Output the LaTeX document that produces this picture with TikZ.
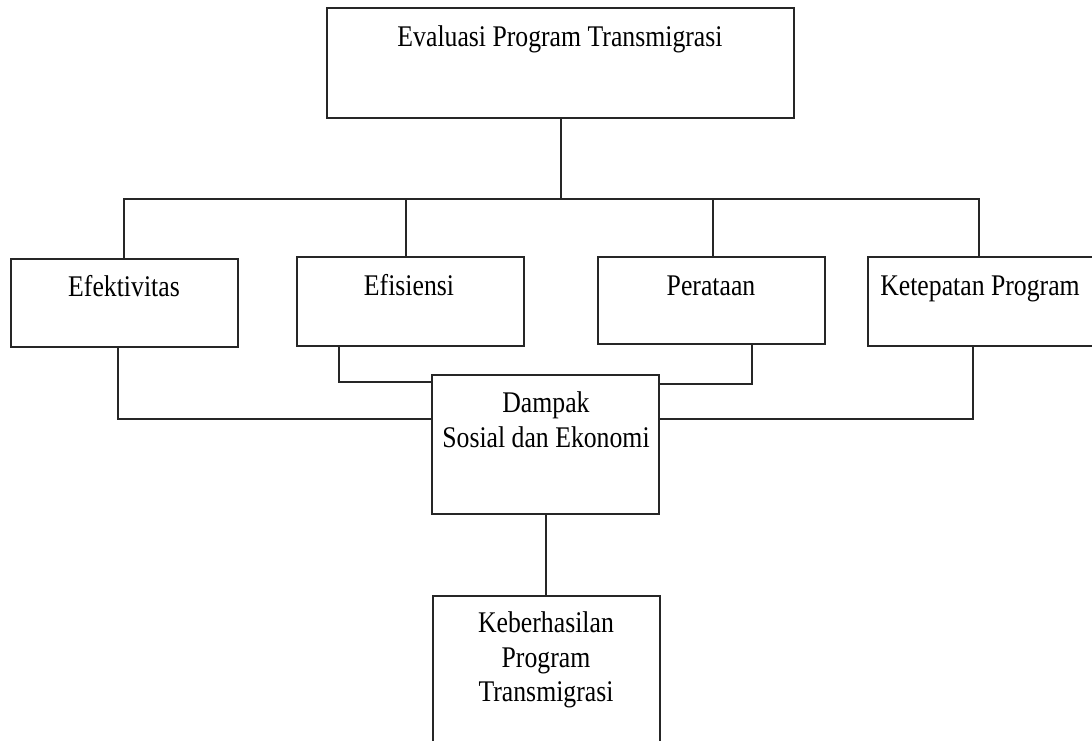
\documentclass[tikz,border=0pt]{standalone}
\usepackage{fontspec}
\setmainfont[FakeStretch=0.858]{Liberation Serif}
\begin{document}
\begin{tikzpicture}[x=0.5pt,y=-0.5pt,
  box/.style 2 args={draw=black!85, line width=1pt, inner sep=0pt, fill=white,
    minimum width=#1*0.5pt, minimum height=#2*0.5pt},
  lbl/.style={inner sep=0pt, align=center, font={\fontsize{15}{17.25}\selectfont}},
  conn/.style={draw=black!85, line width=1pt}]
\useasboundingbox[fill=white] (0,0) rectangle (1092,740);

% boxes
\node[box={467}{110}] (eval)   at (560.5,63)    {};
\node[box={227}{88}]  (efek)   at (124.3,303)   {};
\node[box={227}{89}]  (efis)   at (410.5,301.5) {};
\node[box={227}{87}]  (perat)  at (711.5,300.5) {};
\node[box={226}{89}]  (ketep)  at (981,301.5)   {};
\node[box={227}{139}] (dampak) at (545.5,444.5) {};
\node[box={227}{160}] (hasil)  at (546.5,676)   {};

% texts
\node[lbl, anchor=base] (t-eval)  at (560,46)  {Evaluasi Program Transmigrasi};
\node[lbl, anchor=base] (t-efek)  at (124,296) {Efektivitas};
\node[lbl, anchor=base] (t-efis)  at (409,295) {Efisiensi};
\node[lbl, anchor=base] (t-perat) at (711,295) {Perataan};
\node[lbl, anchor=base] (t-ketep) at (980,295) {Ketepatan Program};
\node[lbl, anchor=north] (t-damp) at (546,391.5) {Dampak\\Sosial dan Ekonomi};
\node[lbl, anchor=north] (t-hasil) at (546,611.5) {Keberhasilan\\Program\\Transmigrasi};

% connectors
\coordinate (bus) at (561,199);
\draw[conn] (eval.south) -- (eval.south |- bus);
\draw[conn] (efek.north) |- (bus) -| ([xshift=-1pt]ketep.north);
\draw[conn] ([xshift=-2.25pt]efis.north) -- ([xshift=-2.25pt]efis.north |- bus);
\draw[conn] ([xshift=0.75pt]perat.north) -- ([xshift=0.75pt]perat.north |- bus);

\draw[conn] ([xshift=-3.15pt]efek.south) |- ([yshift=12.75pt]dampak.west);
\draw[conn] ([xshift=-35.75pt]efis.south) |- ([yshift=31.25pt]dampak.west);
\draw[conn] ([xshift=20.25pt]perat.south) |- ([yshift=30.25pt]dampak.east);
\draw[conn] ([xshift=-4pt]ketep.south) |- ([yshift=12.75pt]dampak.east);
\draw[conn] (dampak.south) -- (dampak.south |- hasil.north);
\end{tikzpicture}
\end{document}
